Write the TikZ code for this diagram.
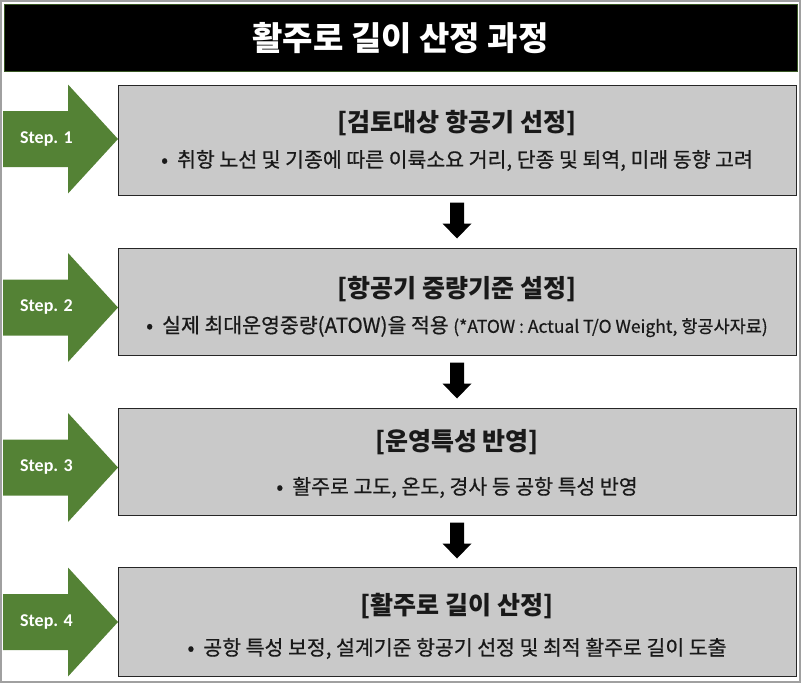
\documentclass[tikz,border=0pt]{standalone}
\usepackage{fontspec}
\setmainfont{Noto Sans CJK KR}
\newfontfamily\krmed{Noto Sans CJK KR}[FakeBold=0.6]
\newfontfamily\stepfont{Carlito}
\usetikzlibrary{calc}
\definecolor{stepgreen}{RGB}{84,130,53}
\definecolor{boxgray}{RGB}{201,201,201}
\definecolor{framegray}{RGB}{160,160,160}
\definecolor{titleedge}{RGB}{56,87,35}
\begin{document}
\begin{tikzpicture}[x=1pt,y=-1pt,
  stepbox/.style={draw=black!85, line width=1pt, fill=boxgray, minimum width=678pt, inner sep=0pt},
  boxtitle/.style={font=\fontsize{25}{27}\selectfont\bfseries, text=black!90, inner sep=0pt},
  boxline/.style={font=\krmed\fontsize{20.5}{22}\selectfont, text=black!90, inner sep=0pt},
  steplabel/.style={font=\stepfont\fontsize{18}{20}\selectfont\bfseries, text=white, inner sep=0pt},
  steparrow/.style={fill=stepgreen},
  downarrow/.style={fill=black}
]
\useasboundingbox (0,0) rectangle (802,685);
\draw[framegray, line width=2pt] (1,1) rectangle (800,682);
\node[draw=titleedge, line width=1pt, fill=black, minimum width=793pt, minimum height=66pt, inner sep=0pt] (title) at (400.5,38) {};
\node[text=white, font=\fontsize{33}{35}\selectfont\bfseries, inner sep=0pt] (titletext) at (title.center) {활주로 길이 산정 과정};

\node[stepbox, minimum height=110pt] (b1) at (457,140) {};
\node[stepbox, minimum height=107pt] (b2) at (457,301.5) {};
\node[stepbox, minimum height=107pt] (b3) at (457,461.5) {};
\node[stepbox, minimum height=109pt] (b4) at (457,621.5) {};

\node[boxtitle] (t1) at ($(b1.north)+(0,39)$) {[검토대상 항공기 선정]};
\node[boxline] (l1) at ($(b1.north)+(0,76)$) {•\hspace{9pt}취항 노선 및 기종에 따른 이륙소요 거리, 단종 및 퇴역, 미래 동향 고려};
\node[boxtitle] (t2) at ($(b2.north)+(0,42)$) {[항공기 중량기준 설정]};
\node[boxline] (l2) at ($(b2.north)+(0,79)$) {•\hspace{9pt}실제 최대운영중량(ATOW)을 적용 {\fontsize{17.5}{19}\selectfont(*ATOW : Actual T/O Weight, 항공사자료)}};
\node[boxtitle] (t3) at ($(b3.north)+(0,35)$) {[운영특성 반영]};
\node[boxline] (l3) at ($(b3.north)+(0,80)$) {•\hspace{9pt}활주로 고도, 온도, 경사 등 공항 특성 반영};
\node[boxtitle] (t4) at ($(b4.north)+(0,40)$) {[활주로 길이 산정]};
\node[boxline] (l4) at ($(b4.north)+(0,82)$) {•\hspace{9pt}공항 특성 보정, 설계기준 항공기 선정 및 최적 활주로 길이 도출};

\foreach \i/\yc in {1/139,2/307.5,3/467.5,4/622} {
  \fill[steparrow] (3,\yc-28) -- (68,\yc-28) -- (68,\yc-54.5) -- (118,\yc) -- (68,\yc+54.5) -- (68,\yc+28) -- (3,\yc+28) -- cycle;
  \node[steplabel] (s\i) at (46.5,\yc) {Step. \i};
}

\foreach \a in {b1,b2,b3} {
  \fill[downarrow] ($(\a.south)+(-7,7)$) -- ($(\a.south)+(7,7)$) -- ($(\a.south)+(7,28)$) -- ($(\a.south)+(14.5,28)$) -- ($(\a.south)+(0,43)$) -- ($(\a.south)+(-14.5,28)$) -- ($(\a.south)+(-7,28)$) -- cycle;
}
\end{tikzpicture}
\end{document}
